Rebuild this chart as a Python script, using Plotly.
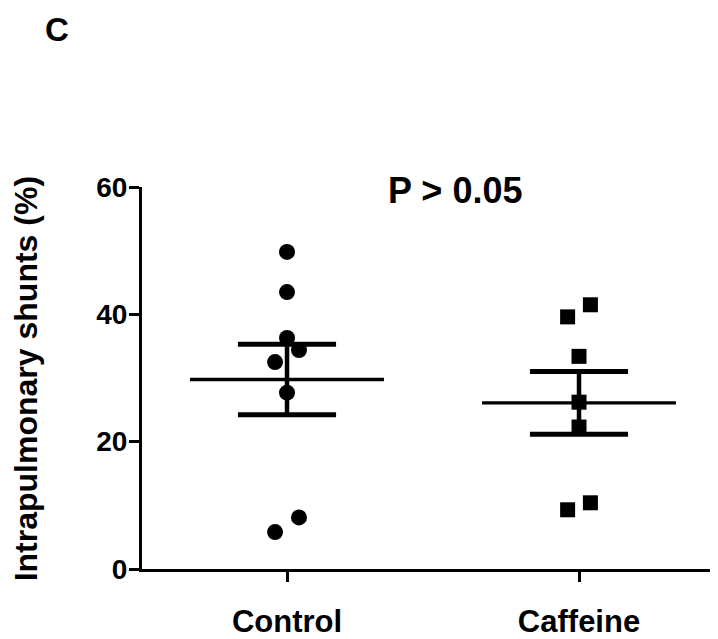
import numpy as np
import plotly.graph_objects as go

# ---- data ----
groups = ["Control", "Caffeine"]
control_values = [49.8, 43.5, 36.3, 34.4, 32.5, 27.7, 8.1, 5.8]
caffeine_values = [41.5, 39.6, 33.4, 26.2, 22.3, 10.4, 9.3]
y_ticks = [0, 20, 40, 60]
p_label = "P > 0.05"
panel_label = "C"
y_title = "Intrapulmonary shunts (%)"

# ---- style (jitter offsets in category units) ----
control_jitter = [0, 0, 0, 0.041, -0.041, 0, 0.041, -0.041]
caffeine_jitter = [0.039, -0.039, 0, 0, 0, 0.039, -0.039]
MEAN_HALF = 0.332
CAP_HALF = 0.168
FONT = "Liberation Sans"

fig = go.Figure()

series = [(control_values, control_jitter, "circle", 16),
          (caffeine_values, caffeine_jitter, "square", 15)]

for gi, (vals, jit, sym, size) in enumerate(series):
    v = np.array(vals)
    mean = v.mean()
    sem = v.std(ddof=1) / np.sqrt(len(v))
    # mean line
    fig.add_trace(go.Scatter(x=[gi - MEAN_HALF, gi + MEAN_HALF], y=[mean, mean],
                             mode="lines", line=dict(color="black", width=3.3),
                             hoverinfo="skip"))
    # SEM vertical
    fig.add_trace(go.Scatter(x=[gi, gi], y=[mean - sem, mean + sem],
                             mode="lines", line=dict(color="black", width=4.5),
                             hoverinfo="skip"))
    # caps
    for yv in (mean - sem, mean + sem):
        fig.add_trace(go.Scatter(x=[gi - CAP_HALF, gi + CAP_HALF], y=[yv, yv],
                                 mode="lines", line=dict(color="black", width=5),
                                 hoverinfo="skip"))
    # points
    fig.add_trace(go.Scatter(x=[gi + j for j in jit], y=vals, mode="markers",
                             marker=dict(symbol=sym, size=size, color="black",
                                         line=dict(width=0))))

# page body has an 8px margin, so the figure is 8px smaller in each direction
fig.update_layout(
    width=710, height=631,
    margin=dict(l=134, r=0, t=179, b=65),
    plot_bgcolor="white", paper_bgcolor="white",
    showlegend=False,
    font=dict(family=FONT, color="black"),
)

fig.update_xaxes(
    range=[-0.4966, 1.476], tickmode="array", tickvals=[0, 1], ticktext=groups,
    showgrid=False, zeroline=False, showline=True, linecolor="black", linewidth=3,
    ticks="outside", ticklen=10, tickwidth=3, tickcolor="black",
    tickfont=dict(family=FONT, size=31, weight="bold", color="black"),
    ticklabelstandoff=13,
)
fig.update_yaxes(
    range=[0, 60], tickmode="array", tickvals=y_ticks,
    showgrid=False, zeroline=False, showline=True, linecolor="black", linewidth=3,
    ticks="outside", ticklen=10, tickwidth=3, tickcolor="black",
    tickfont=dict(family=FONT, size=28, weight="bold", color="black"),
    ticklabelstandoff=-4,
)

fig.add_annotation(text=panel_label, xref="paper", yref="paper",
                   x=-0.1476, y=1.413, showarrow=False, xanchor="center", yanchor="middle",
                   font=dict(family=FONT, size=33, weight="bold", color="black"))
fig.add_annotation(text=p_label, xref="paper", yref="paper",
                   x=0.5434, y=0.992, showarrow=False, xanchor="center", yanchor="middle",
                   font=dict(family=FONT, size=36, weight="bold", color="black"))
fig.add_annotation(text=y_title, xref="paper", yref="paper",
                   x=-0.2015, y=0.499, showarrow=False, textangle=-90,
                   xanchor="center", yanchor="middle",
                   font=dict(family=FONT, size=32, weight="bold", color="black"))

fig.write_html("out.html")
